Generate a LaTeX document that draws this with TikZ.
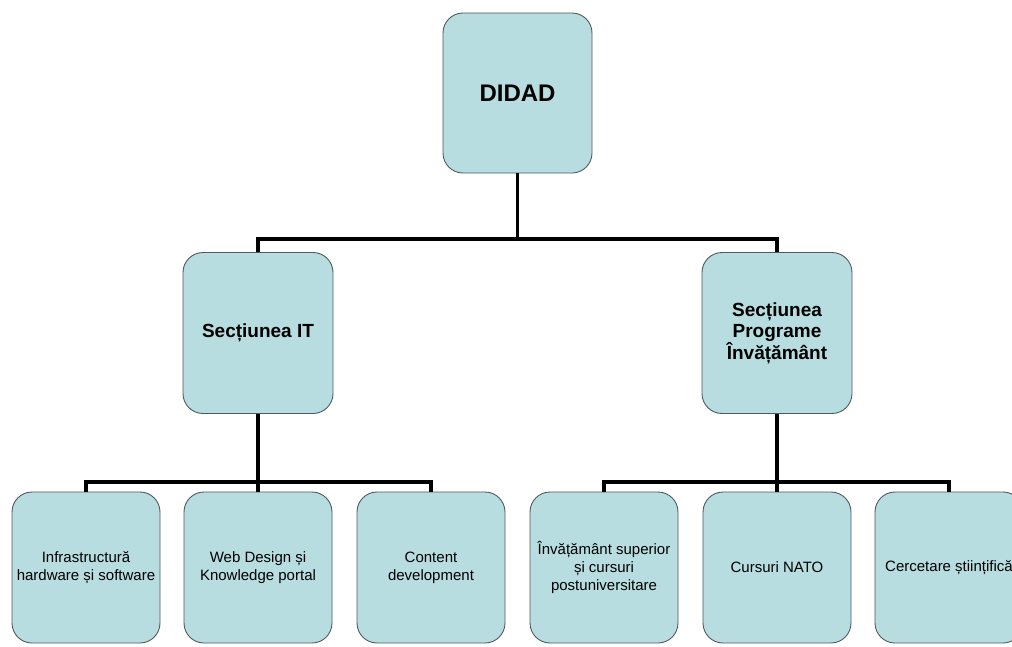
\documentclass[tikz,border=0pt]{standalone}
\usepackage{fontspec}
\setmainfont{Liberation Sans}
\usepackage{tikz}
\usetikzlibrary{positioning}
\definecolor{boxfill}{RGB}{183,221,224}
\definecolor{boxline}{RGB}{80,90,92}

\begin{document}
\begin{tikzpicture}[x=1pt,y=-1pt,
		box/.style={draw=boxline,line width=0.9pt,fill=boxfill,rounded corners=20pt,inner sep=0pt,align=center},
		topbox/.style={box,minimum width=149pt,minimum height=160pt,font=\fontsize{24}{28}\selectfont\bfseries},
		midbox/.style={box,minimum width=150pt,minimum height=161pt,font=\fontsize{19}{21}\selectfont\bfseries},
		lowbox/.style={box,minimum width=148pt,minimum height=151pt,font=\fontsize{15}{18}\selectfont},
		conn/.style={line width=3.3pt}]
		\clip (0,0) rectangle (1012,646);
		\fill [white] (0,0) rectangle (1012,646);
		\node (didad) at (517.5,93) [topbox] {DIDAD};
		\node (it) at (258,333) [midbox] {Secțiunea IT};
		\node (prog) at (777,333) [midbox] {Secțiunea\\Programe\\Învățământ};
		\node (infra) at (86,567.5) [lowbox] {Infrastructură\\hardware și software};
		\node (web) at (258,567.5) [lowbox] {Web Design și\\Knowledge portal};
		\node (content) at (431,567.5) [lowbox] {Content\\development};
		\node (inv) at (604,567.5) [lowbox] {Învățământ superior\\și cursuri\\postuniversitare};
		\node (nato) at (777,567.5) [lowbox] {Cursuri NATO};
		\node (cerc) at (949,567.5) [lowbox] {Cercetare științifică};
		\coordinate (bustop) at (517.5,239);
		\coordinate (busit) at (258,482);
		\coordinate (busprog) at (777,482);
		\draw [conn] (didad.south) -- (bustop);
		\draw [conn] (it.north) |- (bustop) -| (prog.north);
		\draw [conn] (it.south) -- (web.north);
		\draw [conn] (infra.north) |- (busit) -| (content.north);
		\draw [conn] (prog.south) -- (nato.north);
		\draw [conn] (inv.north) |- (busprog) -| (cerc.north);
    \end{tikzpicture}
\end{document}
